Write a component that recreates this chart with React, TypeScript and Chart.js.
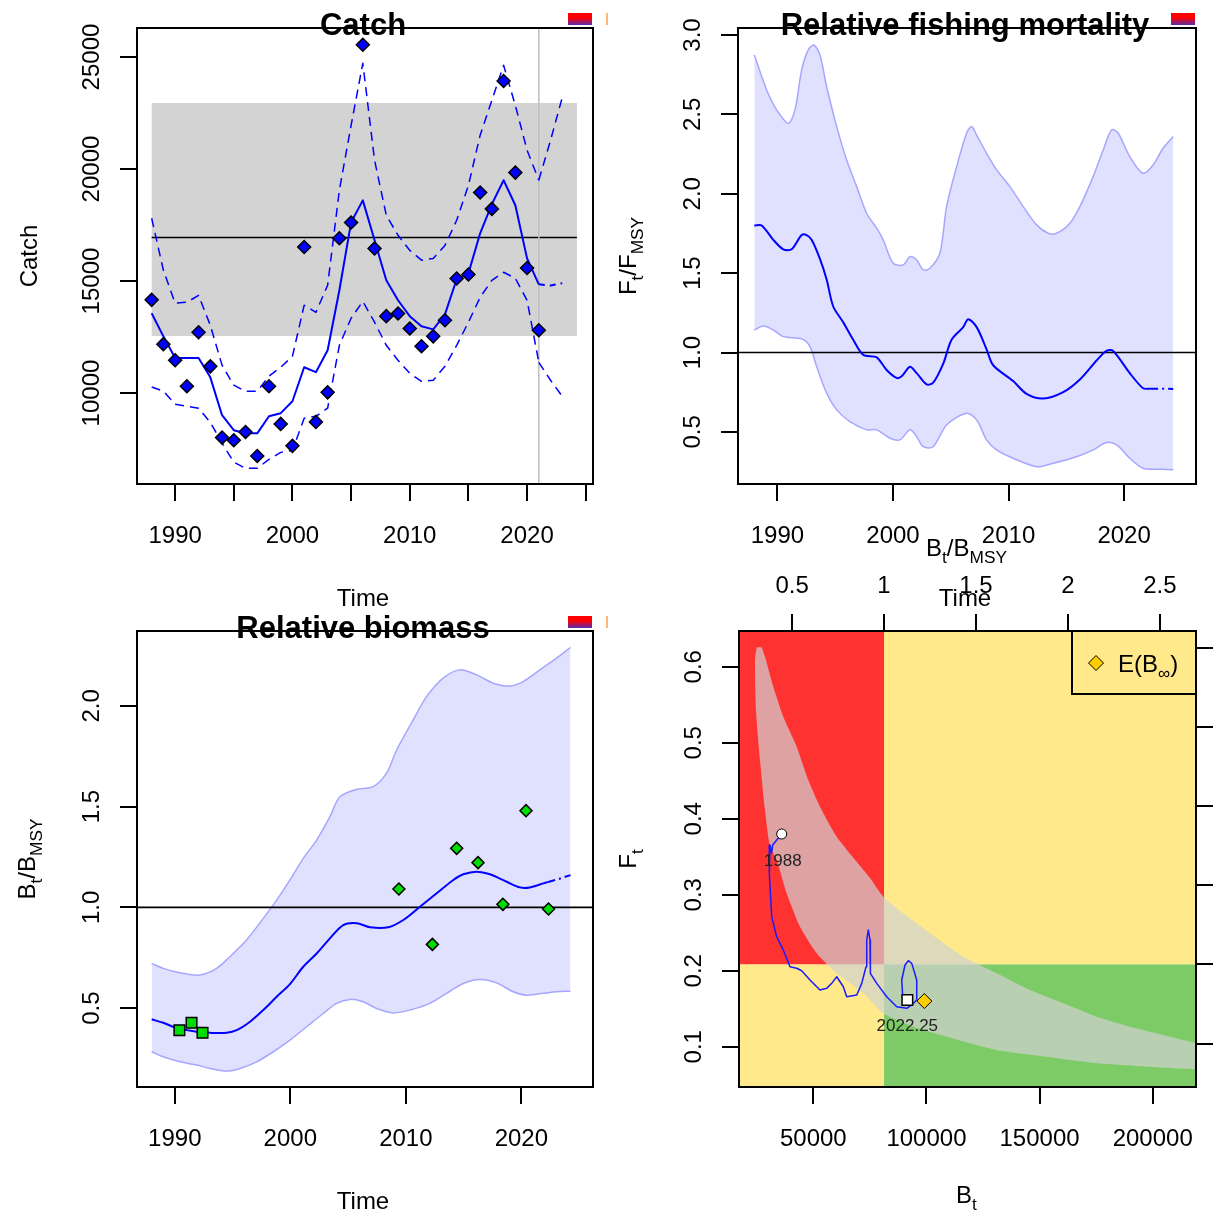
import React, { useEffect, useRef } from 'react';
import { Chart, registerables } from 'chart.js';

Chart.register(...registerables);

// ================= DATA =================
// --- Panel 1: Catch ---
const catchYears = [1988, 1989, 1990, 1991, 1992, 1993, 1994, 1995, 1996, 1997, 1998, 1999, 2000, 2001, 2002, 2003, 2004, 2005, 2006, 2007, 2008, 2009, 2010, 2011, 2012, 2013, 2014, 2015, 2016, 2017, 2018, 2019, 2020, 2021];
const catchObs = [14160, 12180, 11460, 10300, 12710, 11190, 8010, 7890, 8260, 7190, 10300, 8620, 7640, 16520, 8710, 10030, 16910, 17610, 25550, 16450, 13430, 13550, 12880, 12090, 12530, 13250, 15110, 15290, 18950, 18220, 23930, 19840, 15580, 12800];
const catchFit = [13560, 12530, 11560, 11560, 11560, 10700, 9010, 8340, 8200, 8200, 8960, 9100, 9630, 11150, 10930, 11910, 14590, 17620, 18600, 16820, 15030, 14140, 13430, 12980, 12840, 13510, 15080, 15340, 17130, 18430, 19500, 18380, 16010, 14850];
const catchUpper = [17800, 15480, 14010, 14050, 14360, 13020, 11240, 10350, 10080, 10080, 10750, 11150, 11640, 13920, 13600, 14810, 19050, 21950, 24720, 20390, 17930, 17040, 16370, 15930, 16010, 16590, 17710, 19270, 21510, 23070, 24630, 22840, 20840, 19500];
const catchLower = [10270, 10080, 9500, 9410, 9320, 8690, 7760, 6910, 6640, 6640, 7040, 7350, 7440, 8870, 8960, 9320, 12130, 13340, 14090, 13160, 12130, 11460, 10880, 10520, 10570, 11190, 12130, 13160, 14270, 15030, 15390, 15120, 14140, 11370];
const catchPredYears = [2021, 2022, 2023];
const catchPredFit = [14850, 14800, 14900];
const catchPredUpper = [19500, 21280, 23200];
const catchPredLower = [11370, 10570, 9850];
const msyCatch = 16940;
const msyCatchLow = 12545;
const msyCatchHigh = 22950;
const msySpan = [1988, 2024.25];
const lastCatchTime = 2021;

// --- Panel 2: Relative fishing mortality ---
const fYears = [1988, 1988.64, 1989.64, 1990.51, 1991.23, 1992.1, 1992.53, 1992.96, 1993.68, 1994.26, 1994.83, 1995.7, 1996.56, 1997.43, 1998.59, 1999.45, 2000.32, 2000.75, 2001.47, 2002.05, 2002.91, 2003.48, 2004.35, 2005.07, 2006.08, 2006.51, 2007.24, 2008.1, 2008.67, 2010.4, 2011.56, 2013.0, 2014.73, 2016.17, 2017.62, 2018.48, 2019.05, 2020.49, 2021.64, 2022.25];
const fMean = [1.80, 1.80, 1.71, 1.65, 1.65, 1.74, 1.74, 1.71, 1.59, 1.46, 1.29, 1.19, 1.08, 0.985, 0.97, 0.89, 0.84, 0.85, 0.91, 0.87, 0.80, 0.81, 0.93, 1.08, 1.16, 1.21, 1.16, 1.02, 0.92, 0.82, 0.74, 0.71, 0.75, 0.83, 0.95, 1.01, 1.01, 0.87, 0.775, 0.772];
const fPredYears = [2022.25, 2024.25];
const fPred = [0.772, 0.771];
const fUpYears = [1988, 1989.07, 1989.94, 1990.94, 1991.52, 1992.1, 1992.67, 1993.16, 1993.68, 1994.26, 1995.13, 1995.99, 1996.86, 1997.72, 1998.59, 1999.16, 2000.02, 2000.89, 2001.47, 2002.05, 2002.62, 2003.2, 2004.06, 2004.64, 2005.51, 2006.37, 2006.8, 2007.24, 2008.1, 2008.97, 2010.12, 2011.27, 2012.43, 2013.43, 2014.16, 2015.31, 2016.17, 2017.32, 2018.19, 2018.91, 2019.49, 2020.49, 2021.64, 2022.51, 2023.37, 2024.25];
const fUp = [2.874, 2.654, 2.528, 2.444, 2.528, 2.78, 2.906, 2.937, 2.874, 2.674, 2.423, 2.213, 2.045, 1.877, 1.783, 1.709, 1.562, 1.552, 1.604, 1.583, 1.52, 1.531, 1.625, 1.919, 2.171, 2.381, 2.423, 2.37, 2.255, 2.15, 2.045, 1.919, 1.804, 1.751, 1.751, 1.814, 1.919, 2.108, 2.276, 2.402, 2.381, 2.234, 2.129, 2.181, 2.287, 2.36];
const fLoYears = [1988, 1988.78, 1989.64, 1990.51, 1992.1, 1992.82, 1993.4, 1994.26, 1995.13, 1996.28, 1997.72, 1998.59, 1999.74, 2000.6, 2001.47, 2002.05, 2002.62, 2003.48, 2004.64, 2006.37, 2007.24, 2008.1, 2008.97, 2010.4, 2012.43, 2013.86, 2015.89, 2017.32, 2018.48, 2019.35, 2020.49, 2021.64, 2023.08, 2024.25];
const fLo = [1.142, 1.167, 1.142, 1.10, 1.086, 1.037, 0.911, 0.744, 0.639, 0.565, 0.513, 0.513, 0.46, 0.45, 0.513, 0.47, 0.407, 0.407, 0.544, 0.618, 0.576, 0.45, 0.387, 0.334, 0.281, 0.303, 0.344, 0.387, 0.433, 0.418, 0.334, 0.271, 0.265, 0.261];

// --- Panel 3: Relative biomass ---
const bYears = [1988, 1989, 1990.02, 1991.9, 1993.05, 1994.49, 1995.36, 1996.51, 1997.66, 1998.82, 1999.97, 2001.12, 2002.28, 2003.43, 2004.58, 2005.74, 2006.9, 2008.48, 2009.78, 2011.22, 2012.67, 2014.11, 2014.97, 2016.13, 2017.28, 2018.73, 2019.88, 2020.74, 2021.9, 2022.25];
const bMean = [0.444, 0.427, 0.404, 0.382, 0.377, 0.377, 0.390, 0.432, 0.490, 0.556, 0.619, 0.705, 0.771, 0.846, 0.912, 0.921, 0.901, 0.901, 0.937, 1.003, 1.070, 1.136, 1.164, 1.177, 1.164, 1.127, 1.099, 1.099, 1.119, 1.125];
const bPredYears = [2022.25, 2023.2, 2024.25];
const bPred = [1.125, 1.14, 1.16];
const bUpYears = [1988, 1989, 1990.44, 1992.17, 1993.62, 1994.77, 1996.21, 1997.66, 1998.82, 1999.97, 2001.12, 2002.28, 2003.43, 2004.29, 2005.74, 2007.17, 2008.33, 2009.2, 2010.63, 2011.79, 2013.23, 2014.67, 2016.13, 2017.56, 2019.01, 2020.16, 2021.6, 2023.04, 2024.25];
const bUp = [0.722, 0.697, 0.675, 0.664, 0.697, 0.755, 0.838, 0.945, 1.036, 1.136, 1.243, 1.334, 1.450, 1.549, 1.586, 1.599, 1.666, 1.781, 1.930, 2.046, 2.138, 2.179, 2.154, 2.113, 2.099, 2.121, 2.179, 2.237, 2.290];
const bLoYears = [1988, 1989, 1990.45, 1991.9, 1993.05, 1994.49, 1995.65, 1997.09, 1998.53, 1999.97, 2001.41, 2002.85, 2004.01, 2005.16, 2006.31, 2007.47, 2008.91, 2010.35, 2012.08, 2013.53, 2014.97, 2016.41, 2017.86, 2019.3, 2020.46, 2021.9, 2023.04, 2024.25];
const bLo = [0.283, 0.258, 0.233, 0.217, 0.200, 0.187, 0.200, 0.233, 0.283, 0.341, 0.407, 0.473, 0.523, 0.543, 0.531, 0.498, 0.476, 0.490, 0.523, 0.573, 0.622, 0.642, 0.625, 0.581, 0.564, 0.573, 0.581, 0.584];
const idxSqYears = [1990.4, 1991.45, 1992.4];
const idxSq = [0.390, 0.427, 0.377];
const idxDmYears = [2009.4, 2012.3, 2014.4, 2016.25, 2018.4, 2020.4, 2022.35];
const idxDm = [1.091, 0.816, 1.293, 1.222, 1.015, 1.480, 0.992];

// --- Panel 4: Kobe ---
const BMSY = 81260;
const FMSY = 0.2084;
const bandUpperB = [27190, 28650, 32320, 36740, 42660, 47790, 52960, 60350, 66230, 75070, 80950, 89790, 101590, 116320, 131080, 145800, 160530, 175290, 190010, 204740, 218750, 235000];
const bandUpperF = [0.6255, 0.613, 0.5737, 0.5342, 0.4947, 0.4509, 0.4158, 0.3763, 0.354, 0.322, 0.2974, 0.2755, 0.2492, 0.2184, 0.1966, 0.1746, 0.1571, 0.1395, 0.1263, 0.1154, 0.1053, 0.099];
const bandLowerB = [24980, 24230, 24670, 26440, 28650, 30860, 33820, 38240, 44120, 51500, 60350, 72110, 80950, 94210, 108980, 131080, 153190, 175290, 197400, 218750, 235000];
const bandLowerF = [0.6255, 0.6088, 0.543, 0.4772, 0.4114, 0.3632, 0.3457, 0.3018, 0.2579, 0.2229, 0.1966, 0.1703, 0.1439, 0.1263, 0.1132, 0.0957, 0.0868, 0.0782, 0.0737, 0.0703, 0.068];
const trajB = [36030, 32050, 31610, 30860, 30550, 31610, 33820, 36740, 39700, 42660, 44870, 48540, 52960, 55920, 58140, 60350, 63260, 64770, 69190, 71400, 73300, 73610, 74320, 75070, 75380, 75070, 78030, 82450, 86870, 91290, 93500, 95710, 95710, 93500, 92000, 90540, 89080, 89520, 91560];
const trajF = [0.3799, 0.3654, 0.3549, 0.3654, 0.3282, 0.2711, 0.2447, 0.2272, 0.2053, 0.2032, 0.200, 0.1878, 0.1746, 0.1768, 0.1834, 0.1921, 0.1789, 0.1658, 0.168, 0.1834, 0.2053, 0.2404, 0.2536, 0.2404, 0.2053, 0.1966, 0.1834, 0.1658, 0.1526, 0.1505, 0.1549, 0.1614, 0.1878, 0.2097, 0.2132, 0.2075, 0.1878, 0.1658, 0.1614];
const trajStartLabel = '1988';
const trajEndLabel = '2022.25';
const eqB = 99070;
const eqF = 0.1601;

// ================= LAYOUT =================
const PW = 1213;
const PH = 1216;
const TL = 17;
const BOX1 = { L: 137, T: 28, R: 593, B: 484 };
const BOX2 = { L: 738, T: 28, R: 1196, B: 484 };
const BOX3 = { L: 137, T: 631, R: 593, B: 1087 };
const BOX4 = { L: 739, T: 631, R: 1196, B: 1087 };
const X1 = [1986.75, 2025.62], Y1 = [5938, 26295];
const X2 = [1986.59, 2026.22], Y2 = [0.172, 3.044];
const X3 = [1986.73, 2026.2], Y3 = [0.108, 2.372];
const X4 = [17160, 219140], Y4 = [0.047, 0.647];

const FONT = '"Liberation Sans", Arial, Helvetica, sans-serif';
const fnt = (s: number, b = false) => `${b ? 'bold ' : ''}${s}px ${FONT}`;

const xy = (xs: number[], ys: number[]) => xs.map((x, i) => ({ x, y: ys[i] }));
const rev = (a: any[]) => a.slice().reverse();

function lineDS(data: any[], color: string, width: number, dash: number[] = [], order = 5, tension = 0) {
  return { data, borderColor: color, borderWidth: width, borderDash: dash, pointRadius: 0, fill: false, tension, order, borderJoinStyle: 'round' };
}
function areaDS(data: any[], color: string, order: number, tension = 0) {
  return { data, backgroundColor: color, borderColor: 'rgba(0,0,0,0)', borderWidth: 0, pointRadius: 0, fill: 'shape', tension, order };
}
function ptsDS(data: any[], style: string, radius: number, bg: string, bw = 1.5, order = 1) {
  return { data, showLine: false, pointStyle: style, pointRadius: radius, pointBackgroundColor: bg, pointBorderColor: '#000', pointBorderWidth: bw, order };
}

function scale(rng: number[], step: number, pos: string, axis: string) {
  return {
    type: 'linear', axis, position: pos, min: rng[0], max: rng[1],
    ticks: { display: false, stepSize: step, includeBounds: false },
    grid: { drawOnChartArea: false, drawTicks: true, tickLength: TL, color: '#000', lineWidth: 2 },
    border: { display: false },
    afterBuildTicks: (s: any) => {
      const out: any[] = [];
      const k0 = Math.ceil(rng[0] / step - 1e-9);
      for (let k = k0; k * step <= rng[1] + 1e-9; k++) out.push({ value: Math.round(k * step * 1e6) / 1e6 });
      s.ticks = out;
    },
    afterFit: (s: any) => { if (pos === 'left' || pos === 'right') s.width = TL; else s.height = TL; },
  };
}

function txt(ctx: CanvasRenderingContext2D, s: string, x: number, y: number, size: number, o: any = {}) {
  ctx.save();
  ctx.translate(x, y);
  if (o.rot) ctx.rotate(-Math.PI / 2);
  ctx.font = fnt(size, o.bold);
  ctx.fillStyle = o.color || '#000';
  ctx.textAlign = o.align || 'center';
  ctx.textBaseline = 'alphabetic';
  ctx.fillText(s, 0, 0);
  ctx.restore();
}

function rich(ctx: CanvasRenderingContext2D, segs: [string, boolean][], x: number, y: number, size: number, rot = false, align = 'center') {
  const sub = size * 0.72;
  ctx.save();
  ctx.translate(x, y);
  if (rot) ctx.rotate(-Math.PI / 2);
  ctx.fillStyle = '#000';
  ctx.textAlign = 'left';
  ctx.textBaseline = 'alphabetic';
  const ws = segs.map(([t, s]) => { ctx.font = fnt(s ? sub : size); return ctx.measureText(t).width; });
  const total = ws.reduce((a, b) => a + b, 0);
  let cx = align === 'center' ? -total / 2 : 0;
  segs.forEach(([t, s], i) => {
    ctx.font = fnt(s ? sub : size);
    ctx.fillText(t, cx, s ? size * 0.3 : 0);
    cx += ws[i];
  });
  ctx.restore();
}

function xLabels(ctx: any, sc: any, y: number, fmt: (v: number) => string) {
  for (const t of sc.ticks) { const s = fmt(t.value); if (s) txt(ctx, s, sc.getPixelForValue(t.value), y, 24); }
}
function yLabels(ctx: any, sc: any, x: number, fmt: (v: number) => string) {
  for (const t of sc.ticks) { const s = fmt(t.value); if (s) txt(ctx, s, x, sc.getPixelForValue(t.value), 24, { rot: true }); }
}
function box(ctx: any, a: any) {
  ctx.save();
  ctx.strokeStyle = '#000';
  ctx.lineWidth = 2;
  ctx.strokeRect(a.left, a.top, a.right - a.left, a.bottom - a.top);
  ctx.restore();
}
function colorKey(ctx: any, a: any, orange: boolean) {
  const x = a.right - 25, y = a.top - 15, w = 24, h = 12;
  const g = ctx.createLinearGradient(0, y, 0, y + h);
  g.addColorStop(0, '#ff0000');
  g.addColorStop(0.4, '#ff0000');
  g.addColorStop(1, '#5a2ab0');
  ctx.fillStyle = g;
  ctx.fillRect(x, y, w, h);
  if (orange) {
    ctx.fillStyle = 'rgba(255,170,90,0.85)';
    ctx.fillRect(a.right + 13, y, 2, h);
  }
}

const decor = (draw: (c: any, ctx: CanvasRenderingContext2D) => void) => ({
  id: 'decor',
  afterDraw(c: any) { const ctx = c.ctx; ctx.save(); draw(c, ctx); ctx.restore(); },
});

function baseOptions(bx: any, scales: any, kobe = false) {
  return {
    animation: false, responsive: false, devicePixelRatio: 1, events: [],
    layout: {
      autoPadding: false,
      padding: kobe
        ? { left: bx.L - TL, top: bx.T - TL, right: PW - bx.R - TL, bottom: PH - bx.B - TL }
        : { left: bx.L - TL, top: bx.T, right: PW - bx.R, bottom: PH - bx.B - TL },
    },
    plugins: { legend: { display: false }, tooltip: { enabled: false }, title: { display: false } },
    scales,
  };
}

const BLUE = '#0000ff';
const CI_FILL = 'rgba(0,0,255,0.12)';
const CI_LINE = '#a6a6ff';
const SM = 0.3;

// upper CI line filled down to the next dataset (the lower CI line)
function ciPair(upX: number[], upY: number[], loX: number[], loY: number[]) {
  const up: any = lineDS(xy(upX, upY), CI_LINE, 1.5, [], 21, SM);
  up.fill = '+1';
  up.backgroundColor = CI_FILL;
  const lo: any = lineDS(xy(loX, loY), CI_LINE, 1.5, [], 20, SM);
  return [up, lo];
}

function cfgCatch(): any {
  return {
    type: 'line',
    data: {
      datasets: [
        areaDS(xy([msySpan[0], msySpan[1], msySpan[1], msySpan[0]], [msyCatchLow, msyCatchLow, msyCatchHigh, msyCatchHigh]), '#d3d3d3', 30),
        lineDS(xy(msySpan, [msyCatch, msyCatch]), '#000', 1.6, [], 29),
        lineDS(xy([lastCatchTime, lastCatchTime], Y1), '#bdbdbd', 1.5, [], 28),
        lineDS(xy(catchYears, catchUpper), BLUE, 1.5, [9, 6], 10),
        lineDS(xy(catchYears, catchLower), BLUE, 1.5, [9, 6], 10),
        lineDS(xy(catchPredYears, catchPredUpper), BLUE, 1.5, [9, 6], 10),
        lineDS(xy(catchPredYears, catchPredLower), BLUE, 1.5, [9, 6], 10),
        lineDS(xy(catchYears, catchFit), BLUE, 2, [], 9),
        lineDS(xy(catchPredYears, catchPredFit), BLUE, 2, [6, 5], 9),
        ptsDS(xy(catchYears, catchObs), 'rectRot', 6.5, BLUE, 1.5, 1),
      ],
    },
    options: baseOptions(BOX1, { x: scale(X1, 5, 'bottom', 'x'), y: scale(Y1, 5000, 'left', 'y') }),
    plugins: [decor((c, ctx) => {
      const a = c.chartArea;
      box(ctx, a);
      xLabels(ctx, c.scales.x, a.bottom + 59, (v) => (Math.round(v) % 10 === 0 ? String(Math.round(v)) : ''));
      yLabels(ctx, c.scales.y, a.left - 38, (v) => String(Math.round(v)));
      const cx = (a.left + a.right) / 2 - 2;
      txt(ctx, 'Catch', cx, a.top + 7, 31, { bold: true });
      txt(ctx, 'Time', cx, a.bottom + 122, 24);
      txt(ctx, 'Catch', a.left - 100, (a.top + a.bottom) / 2, 24, { rot: true });
      colorKey(ctx, a, true);
    })],
  };
}

function cfgF(): any {
  return {
    type: 'line',
    data: {
      datasets: [
        ...ciPair(fUpYears, fUp, fLoYears, fLo),
        lineDS(xy(X2, [1, 1]), '#000', 1.6, [], 15),
        lineDS(xy(fYears, fMean), BLUE, 2, [], 5, SM),
        lineDS(xy(fPredYears, fPred), BLUE, 2, [8, 4, 2, 4], 5),
      ],
    },
    options: baseOptions(BOX2, { x: scale(X2, 10, 'bottom', 'x'), y: scale(Y2, 0.5, 'left', 'y') }),
    plugins: [decor((c, ctx) => {
      const a = c.chartArea;
      box(ctx, a);
      xLabels(ctx, c.scales.x, a.bottom + 59, (v) => String(Math.round(v)));
      yLabels(ctx, c.scales.y, a.left - 38, (v) => v.toFixed(1));
      const cx = (a.left + a.right) / 2 - 2;
      txt(ctx, 'Relative fishing mortality', cx, a.top + 7, 31, { bold: true });
      txt(ctx, 'Time', cx, a.bottom + 122, 24);
      rich(ctx, [['F', false], ['t', true], ['/', false], ['F', false], ['MSY', true]], a.left - 102, (a.top + a.bottom) / 2, 24, true);
      colorKey(ctx, a, false);
    })],
  };
}

function cfgB(): any {
  return {
    type: 'line',
    data: {
      datasets: [
        ...ciPair(bUpYears, bUp, bLoYears, bLo),
        lineDS(xy(X3, [1, 1]), '#000', 1.6, [], 15),
        lineDS(xy(bYears, bMean), BLUE, 2, [], 5, SM),
        lineDS(xy(bPredYears, bPred), BLUE, 2, [8, 4, 2, 4], 5),
        ptsDS(xy(idxSqYears, idxSq), 'rect', 7.5, '#00dd00', 1.5, 2),
        ptsDS(xy(idxDmYears, idxDm), 'rectRot', 6, '#00dd00', 1.5, 1),
      ],
    },
    options: baseOptions(BOX3, { x: scale(X3, 10, 'bottom', 'x'), y: scale(Y3, 0.5, 'left', 'y') }),
    plugins: [decor((c, ctx) => {
      const a = c.chartArea;
      box(ctx, a);
      xLabels(ctx, c.scales.x, a.bottom + 59, (v) => String(Math.round(v)));
      yLabels(ctx, c.scales.y, a.left - 38, (v) => v.toFixed(1));
      const cx = (a.left + a.right) / 2 - 2;
      txt(ctx, 'Relative biomass', cx, a.top + 7, 31, { bold: true });
      txt(ctx, 'Time', cx, a.bottom + 122, 24);
      rich(ctx, [['B', false], ['t', true], ['/', false], ['B', false], ['MSY', true]], a.left - 102, (a.top + a.bottom) / 2, 24, true);
      colorKey(ctx, a, true);
    })],
  };
}

function cfgKobe(): any {
  const [bx0, bx1] = X4;
  const [fy0, fy1] = Y4;
  return {
    type: 'line',
    data: {
      datasets: [
        areaDS(xy([bx0, BMSY, BMSY, bx0], [FMSY, FMSY, fy1, fy1]), '#ff3232', 40),
        areaDS(xy([BMSY, bx1, bx1, BMSY], [FMSY, FMSY, fy1, fy1]), '#ffe98b', 40),
        areaDS(xy([bx0, BMSY, BMSY, bx0], [fy0, fy0, FMSY, FMSY]), '#ffe98b', 40),
        areaDS(xy([BMSY, bx1, bx1, BMSY], [fy0, fy0, FMSY, FMSY]), '#7dcb66', 40),
        areaDS([...xy(bandUpperB, bandUpperF), ...rev(xy(bandLowerB, bandLowerF))], 'rgba(209,209,209,0.7)', 35, 0.2),
        lineDS(xy(trajB, trajF), '#1a1aff', 1.5, [], 10),
        ptsDS(xy([trajB[0]], [trajF[0]]), 'circle', 5, '#fff', 1, 3),
        ptsDS(xy([trajB[trajB.length - 1]], [trajF[trajF.length - 1]]), 'rect', 7.5, '#fff', 1.5, 2),
        ptsDS(xy([eqB], [eqF]), 'rectRot', 7.5, '#ffcc00', 1, 1),
      ],
    },
    options: baseOptions(BOX4, {
      x: scale(X4, 50000, 'bottom', 'x'),
      y: scale(Y4, 0.1, 'left', 'y'),
      x2: scale([X4[0] / BMSY, X4[1] / BMSY], 0.5, 'top', 'x'),
      y2: scale([Y4[0] / FMSY, Y4[1] / FMSY], 0.5, 'right', 'y'),
    }, true),
    plugins: [decor((c, ctx) => {
      const a = c.chartArea;
      const sx = c.scales.x, sy = c.scales.y;
      box(ctx, a);
      xLabels(ctx, sx, a.bottom + 59, (v) => String(Math.round(v)));
      xLabels(ctx, c.scales.x2, a.top - 38, (v) => String(Math.round(v * 10) / 10));
      yLabels(ctx, sy, a.left - 38, (v) => v.toFixed(1));
      const cx = (a.left + a.right) / 2 - 1;
      rich(ctx, [['B', false], ['t', true]], cx, a.bottom + 116, 24);
      rich(ctx, [['B', false], ['t', true], ['/', false], ['B', false], ['MSY', true]], cx, a.top - 75, 24);
      rich(ctx, [['F', false], ['t', true]], a.left - 103, (a.top + a.bottom) / 2, 24, true);
      // point labels
      const p0x = sx.getPixelForValue(trajB[0]), p0y = sy.getPixelForValue(trajF[0]);
      txt(ctx, trajStartLabel, p0x + 1, p0y + 32, 17, { color: '#222' });
      const pex = sx.getPixelForValue(trajB[trajB.length - 1]), pey = sy.getPixelForValue(trajF[trajF.length - 1]);
      txt(ctx, trajEndLabel, pex, pey + 31, 17, { color: '#222' });
      // legend
      const lw = 124, lh = 63;
      const lx = a.right - lw, ly = a.top;
      ctx.strokeStyle = '#000';
      ctx.lineWidth = 2;
      ctx.strokeRect(lx, ly, lw, lh);
      const dx = lx + 24, dy = ly + 32, r = 7.5;
      ctx.beginPath();
      ctx.moveTo(dx, dy - r); ctx.lineTo(dx + r, dy); ctx.lineTo(dx, dy + r); ctx.lineTo(dx - r, dy); ctx.closePath();
      ctx.fillStyle = '#ffcc00'; ctx.fill();
      ctx.lineWidth = 1; ctx.stroke();
      rich(ctx, [['E(B', false], ['\u221E', true], [')', false]], lx + 46, ly + 41, 24, false, 'left');
    })],
  };
}

export default function App() {
  const r1 = useRef<HTMLCanvasElement>(null);
  const r2 = useRef<HTMLCanvasElement>(null);
  const r3 = useRef<HTMLCanvasElement>(null);
  const r4 = useRef<HTMLCanvasElement>(null);
  useEffect(() => {
    const charts = [
      new Chart(r1.current as any, cfgCatch()),
      new Chart(r2.current as any, cfgF()),
      new Chart(r3.current as any, cfgB()),
      new Chart(r4.current as any, cfgKobe()),
    ];
    return () => charts.forEach((c) => c.destroy());
  }, []);
  const cs: any = { position: 'absolute', left: 0, top: 0, width: PW, height: PH };
  return (
    <div style={{ position: 'absolute', left: 0, top: 0, width: PW, height: PH, background: '#fff', overflow: 'hidden' }}>
      <canvas ref={r4} width={PW} height={PH} style={cs} />
      <canvas ref={r3} width={PW} height={PH} style={cs} />
      <canvas ref={r2} width={PW} height={PH} style={cs} />
      <canvas ref={r1} width={PW} height={PH} style={cs} />
    </div>
  );
}
